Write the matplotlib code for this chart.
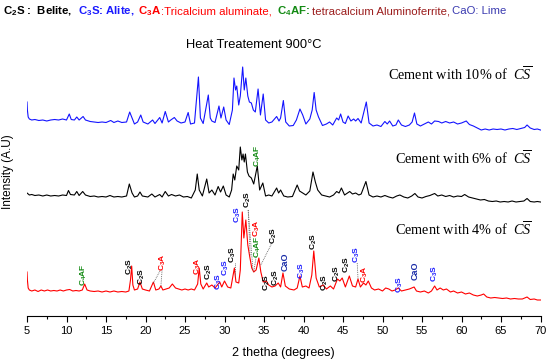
import numpy as np
import matplotlib
matplotlib.use("Agg")
import matplotlib.pyplot as plt

plt.rcParams['font.family'] = ['Liberation Sans', 'DejaVu Sans']
plt.rcParams['mathtext.fontset'] = 'custom'
plt.rcParams['mathtext.rm'] = 'Liberation Sans'
plt.rcParams['mathtext.bf'] = 'Liberation Sans:bold'
plt.rcParams['mathtext.it'] = 'Liberation Serif:italic'
plt.rcParams['mathtext.default'] = 'regular'

# 2theta / intensity (a.u.)
tth_4 = [5.0, 5.05, 5.15, 5.3, 5.6, 6.0, 6.4, 6.8, 7.2, 7.6, 8.0, 8.4, 8.8, 9.2, 9.6, 10.0, 10.4, 10.8, 11.2, 11.6,
         12.0, 12.3, 12.6, 13.0, 13.5, 14.0, 14.5, 15.0, 15.5, 16.0, 16.5, 17.0, 17.5, 17.9, 18.1, 18.25, 18.4, 18.6,
         19.0, 19.3, 19.6, 20.0, 20.5, 21.0, 21.3, 21.7, 21.95, 22.2, 22.6, 23.0, 23.4, 23.8, 24.2, 24.6, 25.0, 25.4,
         25.8, 26.2, 26.6, 26.8, 27.0, 27.3, 27.75, 28.0, 28.4, 28.8, 29.4, 29.65, 30.0, 30.4, 30.8, 31.1, 31.25,
         31.45, 31.8, 32.0, 32.25, 32.45, 32.7, 32.95, 33.2, 33.45, 33.7, 34.0, 34.35, 34.6, 34.9, 35.3, 35.6, 36.0,
         36.4, 36.8, 37.1, 37.4, 37.7, 38.2, 38.8, 39.2, 39.55, 39.85, 40.3, 40.7, 41.05, 41.3, 41.6, 42.0, 42.5,
         42.9, 43.4, 43.8, 44.3, 44.6, 44.9, 45.3, 45.8, 46.2, 46.6, 46.9, 47.2, 47.6, 47.9, 48.2, 48.6, 49.0, 49.5,
         50.0, 50.4, 50.8, 51.2, 51.6, 52.0, 52.4, 52.9, 53.4, 54.0, 54.3, 54.8, 55.3, 55.8, 56.2, 56.6, 56.9, 57.3,
         57.7, 58.1, 58.6, 59.0, 59.5, 60.0, 60.5, 61.0, 61.5, 62.0, 62.5, 62.8, 63.2, 63.7, 64.2, 64.7, 65.2, 65.7,
         66.2, 66.7, 67.2, 67.7, 68.3, 68.7, 69.2, 69.6, 70.0]
int_4 = [44, 36, 28, 26, 25, 26, 24.5, 26, 25, 26, 25, 25.5, 25, 26, 25, 26, 26.5, 25, 25.5, 25,
         26, 32, 26, 25, 24.5, 25, 24, 25, 24, 25, 24, 24.5, 24, 25, 36, 50, 31, 26,
         27, 34, 27, 26, 25, 34, 26, 27, 30, 26, 27, 28, 32, 28, 27, 26, 27, 26,
         27, 26, 32, 48, 32, 27, 33, 29, 31, 28, 34, 29, 35, 29, 28, 41, 48,
         34, 33, 46, 104, 78, 96, 71, 59, 48, 44, 46, 58, 44, 34, 35, 31, 29,
         30, 33, 29, 43, 30, 27, 26, 28, 40, 29, 30, 28, 41, 65, 38, 29, 31,
         27, 30, 27, 37, 35, 38, 29, 40, 30, 29, 37, 29, 33, 31, 35, 28, 26, 27,
         25, 28, 27, 25, 26, 28, 25, 26, 27, 29, 25, 24, 25, 23, 25, 30, 26, 28,
         26, 27, 24, 25, 23, 24, 22, 23, 21, 20, 21, 22, 19, 18, 18.5, 18, 17.5, 18,
         17, 17.5, 17, 17, 19, 16.5, 17, 16, 16]

tth_6 = [5.0, 5.3, 5.6, 6.0, 6.5, 7.0, 7.5, 8.0, 8.5, 9.0, 9.5, 10.0, 10.25, 10.5, 11.0, 11.3, 11.6, 12.05, 12.4,
         13.0, 13.5, 14.0, 14.5, 15.0, 15.5, 16.0, 16.5, 17.0, 17.6, 17.95, 18.3, 18.6, 19.0, 19.3, 19.6, 20.3, 20.8,
         21.2, 21.8, 22.1, 22.5, 22.9, 23.3, 23.8, 24.3, 24.8, 25.3, 25.8, 26.3, 26.55, 26.8, 27.2, 27.75, 28.05,
         28.4, 28.8, 29.2, 29.5, 29.85, 30.2, 30.6, 30.9, 31.1, 31.3, 31.55, 31.8, 32.0, 32.2, 32.35, 32.5, 32.65,
         32.9, 33.1, 33.4, 33.7, 34.15, 34.45, 34.85, 35.2, 35.6, 36.0, 36.6, 36.85, 37.1, 37.5, 38.0, 38.6, 39.2,
         39.5, 39.9, 40.3, 40.8, 41.2, 41.5, 41.8, 42.3, 42.8, 43.3, 43.8, 44.2, 44.5, 44.8, 45.2, 45.85, 46.2,
         46.6, 47.0, 47.3, 47.9, 48.3, 48.8, 49.3, 49.8, 50.3, 50.8, 51.3, 51.8, 52.2, 52.7, 53.2, 53.7, 54.1,
         54.5, 55.0, 55.5, 56.0, 56.6, 57.0, 57.5, 58.0, 58.5, 59.0, 59.5, 60.0, 60.4, 60.9, 61.4, 61.9, 62.4,
         62.9, 63.4, 63.9, 64.4, 64.9, 65.4, 65.9, 66.4, 66.9, 67.4, 67.9, 68.3, 68.7, 69.2, 69.6, 70.0]
int_6 = [28, 26, 26.5, 25.5, 26, 25, 26, 25, 25.5, 25, 26, 25.5, 30.5, 26.5, 26, 29.5, 25.5, 29.5, 26,
         24.5, 25, 24, 24.5, 24, 25.5, 24, 24.5, 24, 25, 37, 28, 24, 25, 29, 25, 24, 27,
         24, 26.5, 24, 29.5, 25, 26.5, 25, 26, 24, 24.5, 23, 31, 47, 31, 25, 42, 28,
         31, 26, 34.5, 29, 35, 26, 24, 31, 47, 41, 55, 51, 74, 61, 67, 59, 67,
         49, 45, 43, 37, 55, 31, 38, 25, 26, 25, 33, 28, 31, 25, 24, 24.5, 36,
         30, 28, 26, 30, 49, 39, 31, 26, 25, 24, 26, 29.5, 28, 33, 26, 29.5, 27,
         28, 26, 27, 39.5, 26, 24, 25, 24, 25.5, 24, 23, 25, 26, 24, 23, 25, 27.5,
         24, 23, 24.5, 25.5, 27.5, 25, 26, 24.5, 25.5, 24, 25, 24.5, 26.5, 24, 23, 22, 21,
         21.5, 20, 19.5, 20, 19, 19.5, 19, 20, 19, 19.5, 20, 22.5, 19.5, 19, 19.5, 19]

tth_10 = [5.0, 5.05, 5.15, 5.3, 5.6, 6.0, 6.5, 7.0, 7.5, 8.0, 8.5, 9.0, 9.5, 10.0, 10.35, 10.6, 11.0, 11.3, 11.6,
          12.1, 12.4, 13.0, 13.5, 14.0, 14.5, 15.0, 15.6, 16.0, 16.5, 17.0, 17.6, 18.0, 18.3, 18.6, 19.0, 19.4,
          19.7, 20.3, 20.9, 21.2, 21.8, 22.1, 22.5, 22.9, 23.2, 23.65, 24.0, 24.5, 25.0, 25.4, 25.7, 26.2, 26.7,
          26.95, 27.3, 27.95, 28.2, 28.4, 28.8, 29.3, 29.55, 29.9, 30.2, 30.6, 31.0, 31.2, 31.4, 31.55, 31.8, 32.0,
          32.3, 32.5, 32.7, 32.95, 33.15, 33.4, 33.65, 33.9, 34.25, 34.55, 34.9, 35.2, 35.6, 36.0, 36.6, 36.9,
          37.1, 37.45, 37.75, 38.2, 38.7, 39.1, 39.55, 39.9, 40.3, 40.8, 41.1, 41.35, 41.6, 41.9, 42.4, 42.9,
          43.3, 43.7, 44.2, 44.45, 44.7, 45.0, 45.3, 45.65, 46.0, 46.35, 46.6, 46.9, 47.3, 47.95, 48.3, 48.8,
          49.3, 49.8, 50.3, 50.6, 50.9, 51.3, 51.7, 52.0, 52.4, 52.9, 53.4, 53.75, 54.05, 54.35, 54.8, 55.3,
          55.8, 56.2, 56.6, 57.1, 57.5, 58.0, 58.5, 59.0, 59.5, 60.0, 60.6, 61.0, 61.5, 62.0, 62.5, 63.0, 63.5,
          64.0, 64.5, 65.0, 65.5, 66.0, 66.5, 67.0, 67.5, 68.0, 68.3, 68.7, 69.2, 69.6, 70.0]
int_10 = [44, 36, 29, 27, 26, 26.5, 25.5, 26, 25, 26, 26.5, 26, 27, 26, 32, 26.5, 26, 29, 26,
          29.5, 26, 24.5, 24, 23.5, 24, 23.5, 25.5, 23.5, 25, 23.5, 24, 34, 28, 22, 24, 31,
          24, 22, 26, 22.5, 28.5, 23, 34.5, 24, 26, 28.5, 25, 23, 24, 33.5, 22, 23, 69,
          28, 22.5, 51, 28, 25, 23.5, 40, 28, 39, 26, 21.5, 36, 68, 56, 60, 41, 50,
          79, 56, 68, 50, 44, 43, 36, 34, 57, 31, 52, 26, 23, 24, 29.5, 25,
          28, 45.5, 24, 20, 20.5, 26, 37, 31, 22, 27, 36, 53.5, 36, 29, 20.5, 22,
          24, 21, 28, 26, 32, 24, 22.5, 30, 25, 27, 25, 27.5, 23, 44, 23, 20,
          21, 19.5, 24.5, 22, 25, 20, 21, 26, 21, 19.5, 21, 24, 33, 22, 20, 22,
          24, 22, 25, 24.5, 23, 24.5, 23, 24, 22, 23, 25, 21.5, 20, 18, 16, 17, 16,
          17, 16.5, 17, 16, 17, 17.5, 16.5, 17.5, 18.5, 21, 18, 16.5, 17, 16]

series_names = ['Cement with 4% of  ', 'Cement with 6% of  ', 'Cement with 10% of  ']
offsets = [0, 95, 170]
line_colors = ['#ff0000', '#000000', '#1414ff']

# phase labels: text, colour, 2theta, height
lab_txt = ['C$_4$AF', 'C$_2$S', 'C$_2$S', 'C$_3$A', 'C$_3$A', 'C$_2$S', 'C$_3$S', 'C$_3$S', 'C$_3$S', 'C$_3$S',
           'C$_2$S', 'C$_3$A', 'C$_4$AF', 'C$_2$S', 'C$_2$S', 'C$_2$S', 'CaO', 'C$_3$S', 'C$_2$S', 'C$_2$S',
           'C$_2$S', 'C$_2$S', 'C$_3$S', 'C$_3$A', 'C$_3$S', 'CaO', 'C$_3$S', 'C$_4$AF']
lab_col = ['g', 'k', 'k', 'r', 'r', 'k', 'b', 'b', 'k', 'b',
           'k', 'r', 'g', 'k', 'k', 'k', 'n', 'b', 'k', 'k',
           'k', 'k', 'b', 'r', 'b', 'n', 'b', 'g']
lab_x = [12.25, 18.0, 19.55, 22.15, 26.6, 28.0, 29.35, 30.15, 31.1, 31.7,
         32.95, 34.05, 34.2, 36.2, 35.4, 36.55, 37.7, 39.75, 41.35, 42.7,
         44.25, 45.5, 46.7, 47.8, 52.2, 54.1, 56.6, 34.2]
lab_y = [41, 49, 39, 54, 50, 44, 34, 48, 61, 101,
         116, 88, 69, 80, 33, 38, 54, 45, 74, 33,
         42, 51, 61, 42, 31, 45, 42, 160]
# dotted leaders (x0, y0, x1, y1)
leaders = [(21.0, 33, 21.9, 46), (21.95, 30, 22.1, 46), (31.3, 53, 31.3, 40), (33.0, 106, 33.25, 60),
           (33.0, 106, 33.6, 46), (34.0, 59, 33.7, 44), (36.0, 73, 34.6, 51), (46.8, 53, 46.9, 37)]

col_map = {'k': '#000000', 'b': '#1a1aff', 'r': '#ff0000', 'g': '#138a13', 'n': '#1c2ea8'}

W, H = 550, 363
fig = plt.figure(figsize=(W / 100, H / 100), dpi=100)
ax = fig.add_axes([27 / W, 1 - 316 / H, 513.5 / W, 261 / H])

for tt, ii, off, c in zip([tth_4, tth_6, tth_10], [int_4, int_6, int_10], offsets, line_colors):
    ax.plot(tt, np.array(ii) + off, color=c, lw=0.8)

for (x0, y0, x1, y1) in leaders:
    ax.plot([x0, x1], [y0, y1], ls=(0, (1, 1.2)), color='#555555', lw=0.6)

for t, c, x, y in zip(lab_txt, lab_col, lab_x, lab_y):
    fs = 6.5 if t == 'CaO' else 6
    ax.text(x, y, t, color=col_map[c], rotation=90, ha='center', va='center', fontsize=fs,
            fontweight='bold')

# series names, right aligned at the same x
name_y = [230, 159, 75]
for name, ypx in zip(series_names, name_y):
    fig.text(532 / W, 1 - ypx / H, name + r'$\mathit{C}\overline{\mathit{S}}$',
             fontsize=10.3, family='Liberation Serif', ha='right', va='center')

ax.set_xlim(5, 70)
ax.set_ylim(0, 261)
ax.set_xticks(np.arange(5, 71, 5))
ax.set_xticks(np.arange(7.5, 70, 5), minor=True)
ax.tick_params(axis='x', which='major', length=4, width=0.8, labelsize=8, pad=3)
ax.tick_params(axis='x', which='minor', length=2.5, width=0.8)
ax.set_yticks([])
for s in ['top', 'right', 'left']:
    ax.spines[s].set_visible(False)
ax.spines['bottom'].set_linewidth(0.8)
ax.set_xlabel('2 thetha (degrees)', fontsize=9, labelpad=8)
fig.text(8 / W, 1 - 172 / H, 'Intensity (A.U)', rotation=90, ha='center', va='center', fontsize=8.5)

fig.text(254 / W, 1 - 45 / H, 'Heat Treatement 900\u00b0C', ha='center', va='center', fontsize=9.3)

# colour-coded header line, pieces laid end to end
hdr_txt = ['C$_2$S :  Belite,', 'C$_3$S: Alite,', 'C$_3$A', ':Tricalcium aluminate,', 'C$_4$AF:',
           'tetracalcium Aluminoferrite,', 'CaO: Lime']
hdr_col = ['#000000', '#1a1aff', '#ff0000', '#ff0000', '#138a13', '#9b1c1c', '#3a3ab0']
hdr_wt = ['bold', 'bold', 'bold', 'normal', 'bold', 'normal', 'normal']
hdr_gap = [6, 3, 0, 5, 2, 2, 0]
fig.canvas.draw()
rend = fig.canvas.get_renderer()
xpos = 3
for txt, c, wt, gap in zip(hdr_txt, hdr_col, hdr_wt, hdr_gap):
    t = fig.text(xpos / W, 1 - 11 / H, txt, color=c, fontweight=wt, fontsize=8.2, ha='left', va='center')
    xpos = t.get_window_extent(renderer=rend).x1 + gap

fig.savefig('out.png', dpi=100)
